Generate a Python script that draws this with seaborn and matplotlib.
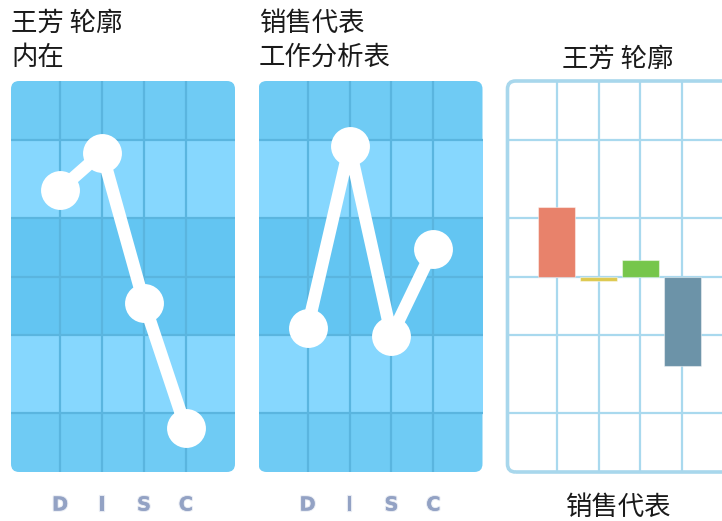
import matplotlib
matplotlib.use('Agg')
import matplotlib.pyplot as plt
import seaborn as sns
import pandas as pd
from matplotlib.patches import FancyBboxPatch
import matplotlib.patheffects as pe

sns.set_theme(style='white')
plt.rcParams['font.family'] = ['Noto Sans CJK SC', 'DejaVu Sans']

# ---- data ----
categories = ['D', 'I', 'S', 'C']
internal_values = [44.5, 63.4, -13.3, -77.7]
job_values = [-26.1, 66.5, -30.2, 14.3]
diff_values = [35.8, -2.4, 8.2, -46.0]
bar_colors = ['#E8826B', '#DEC94F', '#76C64B', '#6C93A8']
title_internal = '王芳 轮廓\n内在'
title_job = '销售代表\n工作分析表'
title_diff = '王芳 轮廓'
xlabel_diff = '销售代表'
grid_levels = [-70, -30, 0, 30, 70]

W, H = 722, 521
fig = plt.figure(figsize=(W / 100, H / 100), dpi=100)


def frac(x0, y0, x1, y1):
    return [x0 / W, 1 - y1 / H, (x1 - x0) / W, (y1 - y0) / H]


XLIM = (-1.17, 4.17)
YLIM = (-100, 100)
TOP_BAND = '#6FCBF4'
LIGHT_BAND = '#86D7FE'
MID_BAND = '#63C5F2'
DARK_GRID = '#5AB5DF'


def rounded(ax, **kw):
    return FancyBboxPatch((0, 0), 1, 1,
                          boxstyle='round,pad=0,rounding_size=0.036',
                          mutation_aspect=224 / 391 * 1.0,
                          transform=ax.transAxes, **kw)


def line_panel(rect, values, title, tx):
    ax = fig.add_axes(rect)
    ax.set_facecolor('none')
    for s in ax.spines.values():
        s.set_visible(False)
    ax.add_patch(rounded(ax, facecolor=TOP_BAND, edgecolor='none', zorder=0))
    ax.axhspan(30, 70, color=LIGHT_BAND, lw=0, zorder=0.2)
    ax.axhspan(-30, 30, color=MID_BAND, lw=0, zorder=0.2)
    ax.axhspan(-70, -30, color=LIGHT_BAND, lw=0, zorder=0.2)
    for y in grid_levels:
        ax.axhline(y, color=DARK_GRID, lw=1.6, zorder=0.5)
    for x in range(len(categories)):
        ax.axvline(x, color=DARK_GRID, lw=1.6, zorder=0.5)
    df = pd.DataFrame({'pos': list(range(len(categories))), 'val': values})
    sns.lineplot(data=df, x='pos', y='val', ax=ax, color='white', linewidth=9,
                 marker='o', markersize=28, markeredgewidth=0, zorder=3,
                 clip_on=False)
    ax.set_xlim(*XLIM)
    ax.set_ylim(*YLIM)
    ax.set_xticks(range(len(categories)))
    ax.set_xticklabels(categories)
    ax.tick_params(axis='x', length=0, pad=17, labelsize=14,
                   labelcolor='#93A2C4')
    for lab in ax.get_xticklabels():
        lab.set_fontweight('bold')
        lab.set_fontfamily(['DejaVu Sans'])
        lab.set_path_effects([pe.withStroke(linewidth=1.6,
                                            foreground=(0.62, 0.68, 0.80, 0.25))])
    ax.set_yticks([])
    ax.set_xlabel('')
    ax.set_ylabel('')
    fig.text(tx / W, 1 - 10 / H, title, ha='left', va='top', fontsize=19,
             color='#1a1a1a', linespacing=1.33)
    return ax


line_panel(frac(11, 81, 235, 472), internal_values, title_internal, 11)
line_panel(frac(258.5, 81, 482.5, 472), job_values, title_job, 259)

# ---- difference bar panel ----
ax3 = fig.add_axes(frac(507.5, 81, 731.5, 472))
ax3.set_facecolor('none')
for s in ax3.spines.values():
    s.set_visible(False)
LIGHT_GRID = '#A9D9EE'
for y in grid_levels:
    ax3.axhline(y, color=LIGHT_GRID, lw=1.6, zorder=0.5)
for x in range(len(categories)):
    ax3.axvline(x, color=LIGHT_GRID, lw=1.6, zorder=0.5)
df3 = pd.DataFrame({'cat': categories, 'val': diff_values})
sns.barplot(data=df3, x='cat', y='val', hue='cat', palette=bar_colors,
            saturation=1, width=0.9, legend=False, ax=ax3,
            edgecolor=(1, 1, 1, 0.45), linewidth=0.8, zorder=2)
ax3.add_patch(rounded(ax3, facecolor='none', edgecolor='#A8D7EC', lw=2.6,
                      zorder=4, clip_on=False))
ax3.set_xlim(*XLIM)
ax3.set_ylim(*YLIM)
ax3.set_xticks([])
ax3.set_yticks([])
ax3.set_ylabel('')
ax3.set_xlabel(xlabel_diff, fontsize=19, color='#1a1a1a', labelpad=16)
ax3.xaxis.label.set_x((618 - 507.5) / 224)
ax3.set_title(title_diff, fontsize=19, color='#1a1a1a', pad=10,
              x=(618 - 507.5) / 224)

fig.savefig('out.png', dpi=100)
